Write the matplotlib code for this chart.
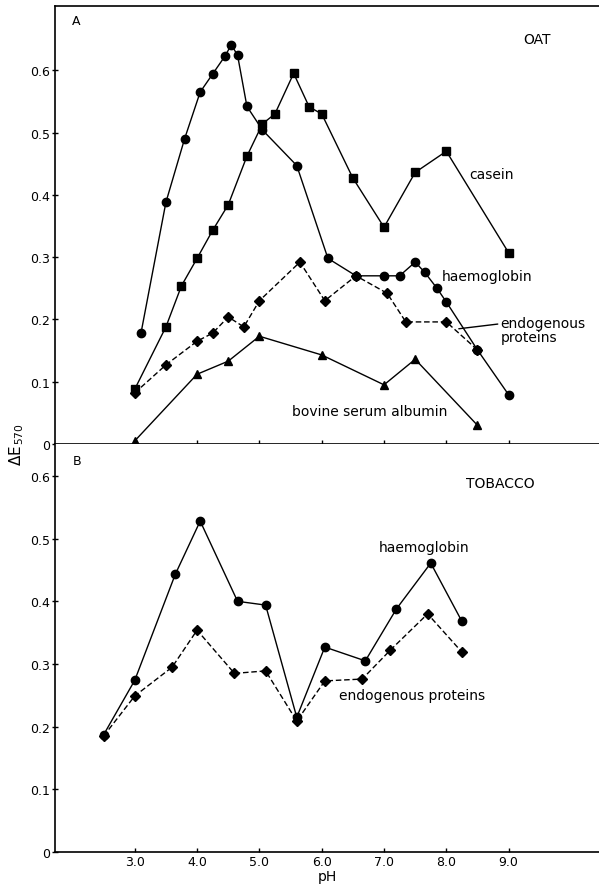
import matplotlib
matplotlib.use("Agg")
import matplotlib.pyplot as plt

# panel A: oat
hb_a_ph = [3.1, 3.5, 3.8, 4.05, 4.25, 4.45, 4.55, 4.65, 4.8, 5.05, 5.6,
           6.1, 6.55, 7.0, 7.25, 7.5, 7.65, 7.85, 8.0, 8.5, 9.0]
hb_a = [0.178, 0.388, 0.49, 0.565, 0.594, 0.623, 0.641, 0.624, 0.542, 0.504, 0.447,
        0.298, 0.27, 0.27, 0.27, 0.292, 0.276, 0.25, 0.228, 0.151, 0.079]

casein_ph = [3.0, 3.5, 3.75, 4.0, 4.25, 4.5, 4.8, 5.05, 5.25, 5.55, 5.8,
             6.0, 6.5, 7.0, 7.5, 8.0, 9.0]
casein = [0.088, 0.188, 0.254, 0.298, 0.343, 0.384, 0.462, 0.514, 0.53, 0.595, 0.541,
          0.53, 0.427, 0.348, 0.436, 0.47, 0.307]

endo_a_ph = [3.0, 3.5, 4.0, 4.25, 4.5, 4.75, 5.0, 5.65, 6.05, 6.55, 7.05, 7.35, 8.0, 8.5]
endo_a = [0.082, 0.127, 0.165, 0.178, 0.204, 0.188, 0.23, 0.292, 0.23, 0.27, 0.242,
          0.196, 0.196, 0.151]

bsa_ph = [3.0, 4.0, 4.5, 5.0, 6.0, 7.0, 7.5, 8.5]
bsa = [0.005, 0.112, 0.133, 0.173, 0.143, 0.095, 0.136, 0.03]

# panel B: tobacco
hb_b_ph = [2.5, 3.0, 3.65, 4.05, 4.65, 5.1, 5.6, 6.05, 6.7, 7.2, 7.75, 8.25]
hb_b = [0.187, 0.274, 0.443, 0.528, 0.40, 0.394, 0.215, 0.327, 0.305, 0.388, 0.461, 0.368]

endo_b_ph = [2.5, 3.0, 3.6, 4.0, 4.6, 5.1, 5.6, 6.05, 6.65, 7.1, 7.7, 8.25]
endo_b = [0.185, 0.249, 0.295, 0.354, 0.285, 0.289, 0.209, 0.273, 0.276, 0.322, 0.38, 0.319]

ph_ticks = [3.0, 4.0, 5.0, 6.0, 7.0, 8.0, 9.0]
e_ticks = [0, 0.1, 0.2, 0.3, 0.4, 0.5, 0.6]
e_labels = ["0", "0.1", "0.2", "0.3", "0.4", "0.5", "0.6"]

fig = plt.figure(figsize=(5.99, 8.87), dpi=100)
ax_a = fig.add_axes([0.0918, 0.4983, 0.9082, 0.4937])
ax_b = fig.add_axes([0.0918, 0.0383, 0.9082, 0.4600])

solid = dict(color="black", lw=1.0, ls="-")
dashed = dict(color="black", lw=1.0, ls=(0, (4, 2)))

ax_a.plot(hb_a_ph, hb_a, marker="o", ms=6, **solid)
ax_a.plot(casein_ph, casein, marker="s", ms=5.5, **solid)
ax_a.plot(endo_a_ph, endo_a, marker="D", ms=5, **dashed)
ax_a.plot(bsa_ph, bsa, marker="^", ms=5.5, **solid)

ax_b.plot(hb_b_ph, hb_b, marker="o", ms=6, **solid)
ax_b.plot(endo_b_ph, endo_b, marker="D", ms=5, **dashed)

for ax, top in ((ax_a, 0.703), (ax_b, 0.651)):
    ax.set_xlim(1.72, 10.45)
    ax.set_ylim(0, top)
    ax.spines["right"].set_visible(False)
    ax.set_yticks(e_ticks)
    ax.set_yticklabels(e_labels)
    ax.set_xticks(ph_ticks)
    ax.tick_params(axis="y", direction="inout", length=5, width=1, labelsize=9, pad=1)
    ax.tick_params(axis="x", direction="in", length=3, width=1, labelsize=9, pad=2)
    for s in ax.spines.values():
        s.set_linewidth(1.2)

ax_a.set_xticklabels([])
ax_b.spines["top"].set_visible(False)
ax_b.set_xticklabels([f"{v:.1f}" for v in ph_ticks])
ax_b.set_xlabel("pH", fontsize=10, labelpad=1)

lab = dict(fontsize=10, color="black")
ax_a.text(1.99, 0.68, "A", ha="left", va="center", fontsize=9)
ax_a.text(9.24, 0.65, "OAT", ha="left", va="center", **lab)
ax_a.text(8.36, 0.433, "casein", ha="left", va="center", **lab)
ax_a.text(7.93, 0.27, "haemoglobin", ha="left", va="center", **lab)
ax_a.annotate("endogenous\nproteins", xy=(8.2, 0.185), xytext=(8.87, 0.183),
              ha="left", va="center", linespacing=1.05,
              arrowprops=dict(arrowstyle="-", color="black", lw=1.0,
                              shrinkA=0, shrinkB=0, relpos=(0, 0.72)), **lab)
ax_a.text(5.53, 0.053, "bovine serum albumin", ha="left", va="center", **lab)

ax_b.text(2.01, 0.625, "B", ha="left", va="center", fontsize=9)
ax_b.text(8.31, 0.589, "TOBACCO", ha="left", va="center", **lab)
ax_b.text(6.92, 0.486, "haemoglobin", ha="left", va="center", **lab)
ax_b.text(6.28, 0.25, "endogenous proteins", ha="left", va="center", **lab)

fig.text(0.028, 0.499, r"$\Delta$E$_{\,570}$", rotation=90, ha="center", va="center",
         fontsize=11)

fig.savefig("out.png", dpi=100)
